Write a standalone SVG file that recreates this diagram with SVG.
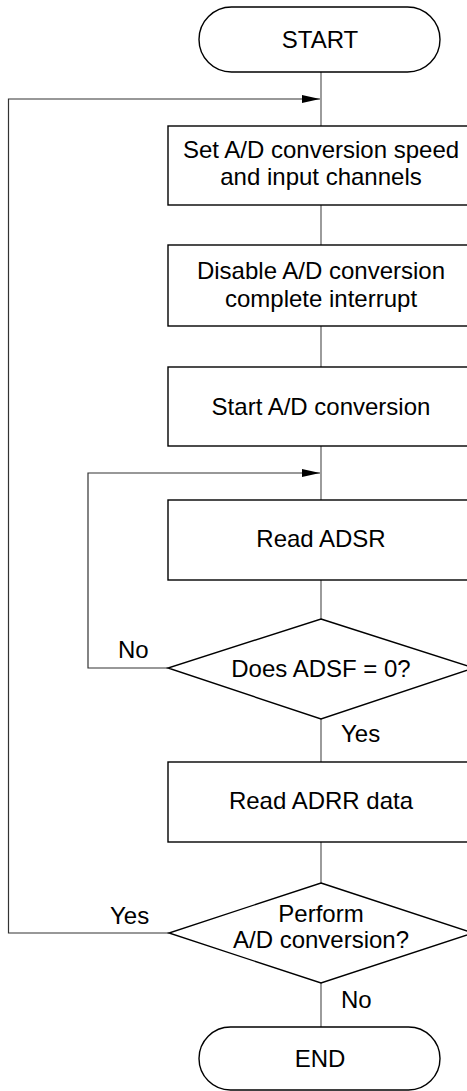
<svg xmlns="http://www.w3.org/2000/svg" width="467" height="1091" viewBox="0 0 467 1091">
<style>
.s{fill:#fff;stroke:#000;stroke-width:1.4}
.c{fill:none;stroke:#666;stroke-width:1.3}
.lp{fill:none;stroke:#333;stroke-width:1.2}
.t{font-family:"Liberation Sans",Arial,sans-serif;font-size:24px;fill:#000;text-anchor:middle}
.l{font-family:"Liberation Sans",Arial,sans-serif;font-size:24px;fill:#000}
</style>
<defs>
<marker id="ah" markerWidth="18" markerHeight="8" refX="18" refY="4" orient="auto" markerUnits="userSpaceOnUse">
<path d="M0,0 L18,4 L0,8 Z" fill="#000"/>
</marker>
</defs>
<g id="connectors">
<line class="c" x1="321" y1="72" x2="321" y2="126"/>
<line class="c" x1="321" y1="205" x2="321" y2="245"/>
<line class="c" x1="321" y1="326" x2="321" y2="367"/>
<line class="c" x1="321" y1="446" x2="321" y2="500"/>
<line class="c" x1="321" y1="580" x2="321" y2="619"/>
<line class="c" x1="321" y1="719" x2="321" y2="762"/>
<line class="c" x1="321" y1="842" x2="321" y2="883"/>
<line class="c" x1="321" y1="983" x2="321" y2="1027"/>
<polyline class="lp" points="168,668 88,668 88,473 320,473" marker-end="url(#ah)"/>
<polyline class="lp" points="169,933 8.5,933 8.5,99 320,99" marker-end="url(#ah)"/>
<text class="l" x="118" y="658">No</text>
<text class="l" x="341" y="742">Yes</text>
<text class="l" x="110" y="924">Yes</text>
<text class="l" x="341" y="1008">No</text>
</g>
<g id="start">
<rect class="s" x="199" y="7" width="241" height="65" rx="32.5"/>
<text class="t" x="320" y="48">START</text>
</g>
<g id="box1">
<rect class="s" x="168" y="126" width="306" height="79"/>
<text class="t" x="321" y="158">Set A/D conversion speed</text>
<text class="t" x="321" y="185">and input channels</text>
</g>
<g id="box2">
<rect class="s" x="168" y="245" width="306" height="81"/>
<text class="t" x="321" y="279">Disable A/D conversion</text>
<text class="t" x="321" y="307">complete interrupt</text>
</g>
<g id="box3">
<rect class="s" x="168" y="367" width="306" height="79"/>
<text class="t" x="321" y="415">Start A/D conversion</text>
</g>
<g id="box4">
<rect class="s" x="168" y="500" width="306" height="80"/>
<text class="t" x="321" y="547">Read ADSR</text>
</g>
<g id="dec1">
<polygon class="s" points="321,619 474,668 321,719 168,668"/>
<text class="t" x="321" y="677">Does ADSF = 0?</text>
</g>
<g id="box5">
<rect class="s" x="168" y="762" width="306" height="80"/>
<text class="t" x="321" y="809">Read ADRR data</text>
</g>
<g id="dec2">
<polygon class="s" points="321,883 473,933 321,983 169,933"/>
<text class="t" x="321" y="922">Perform</text>
<text class="t" x="321" y="948">A/D conversion?</text>
</g>
<g id="end">
<rect class="s" x="199" y="1027" width="241" height="63" rx="31.5"/>
<text class="t" x="320" y="1067">END</text>
</g>
</svg>
